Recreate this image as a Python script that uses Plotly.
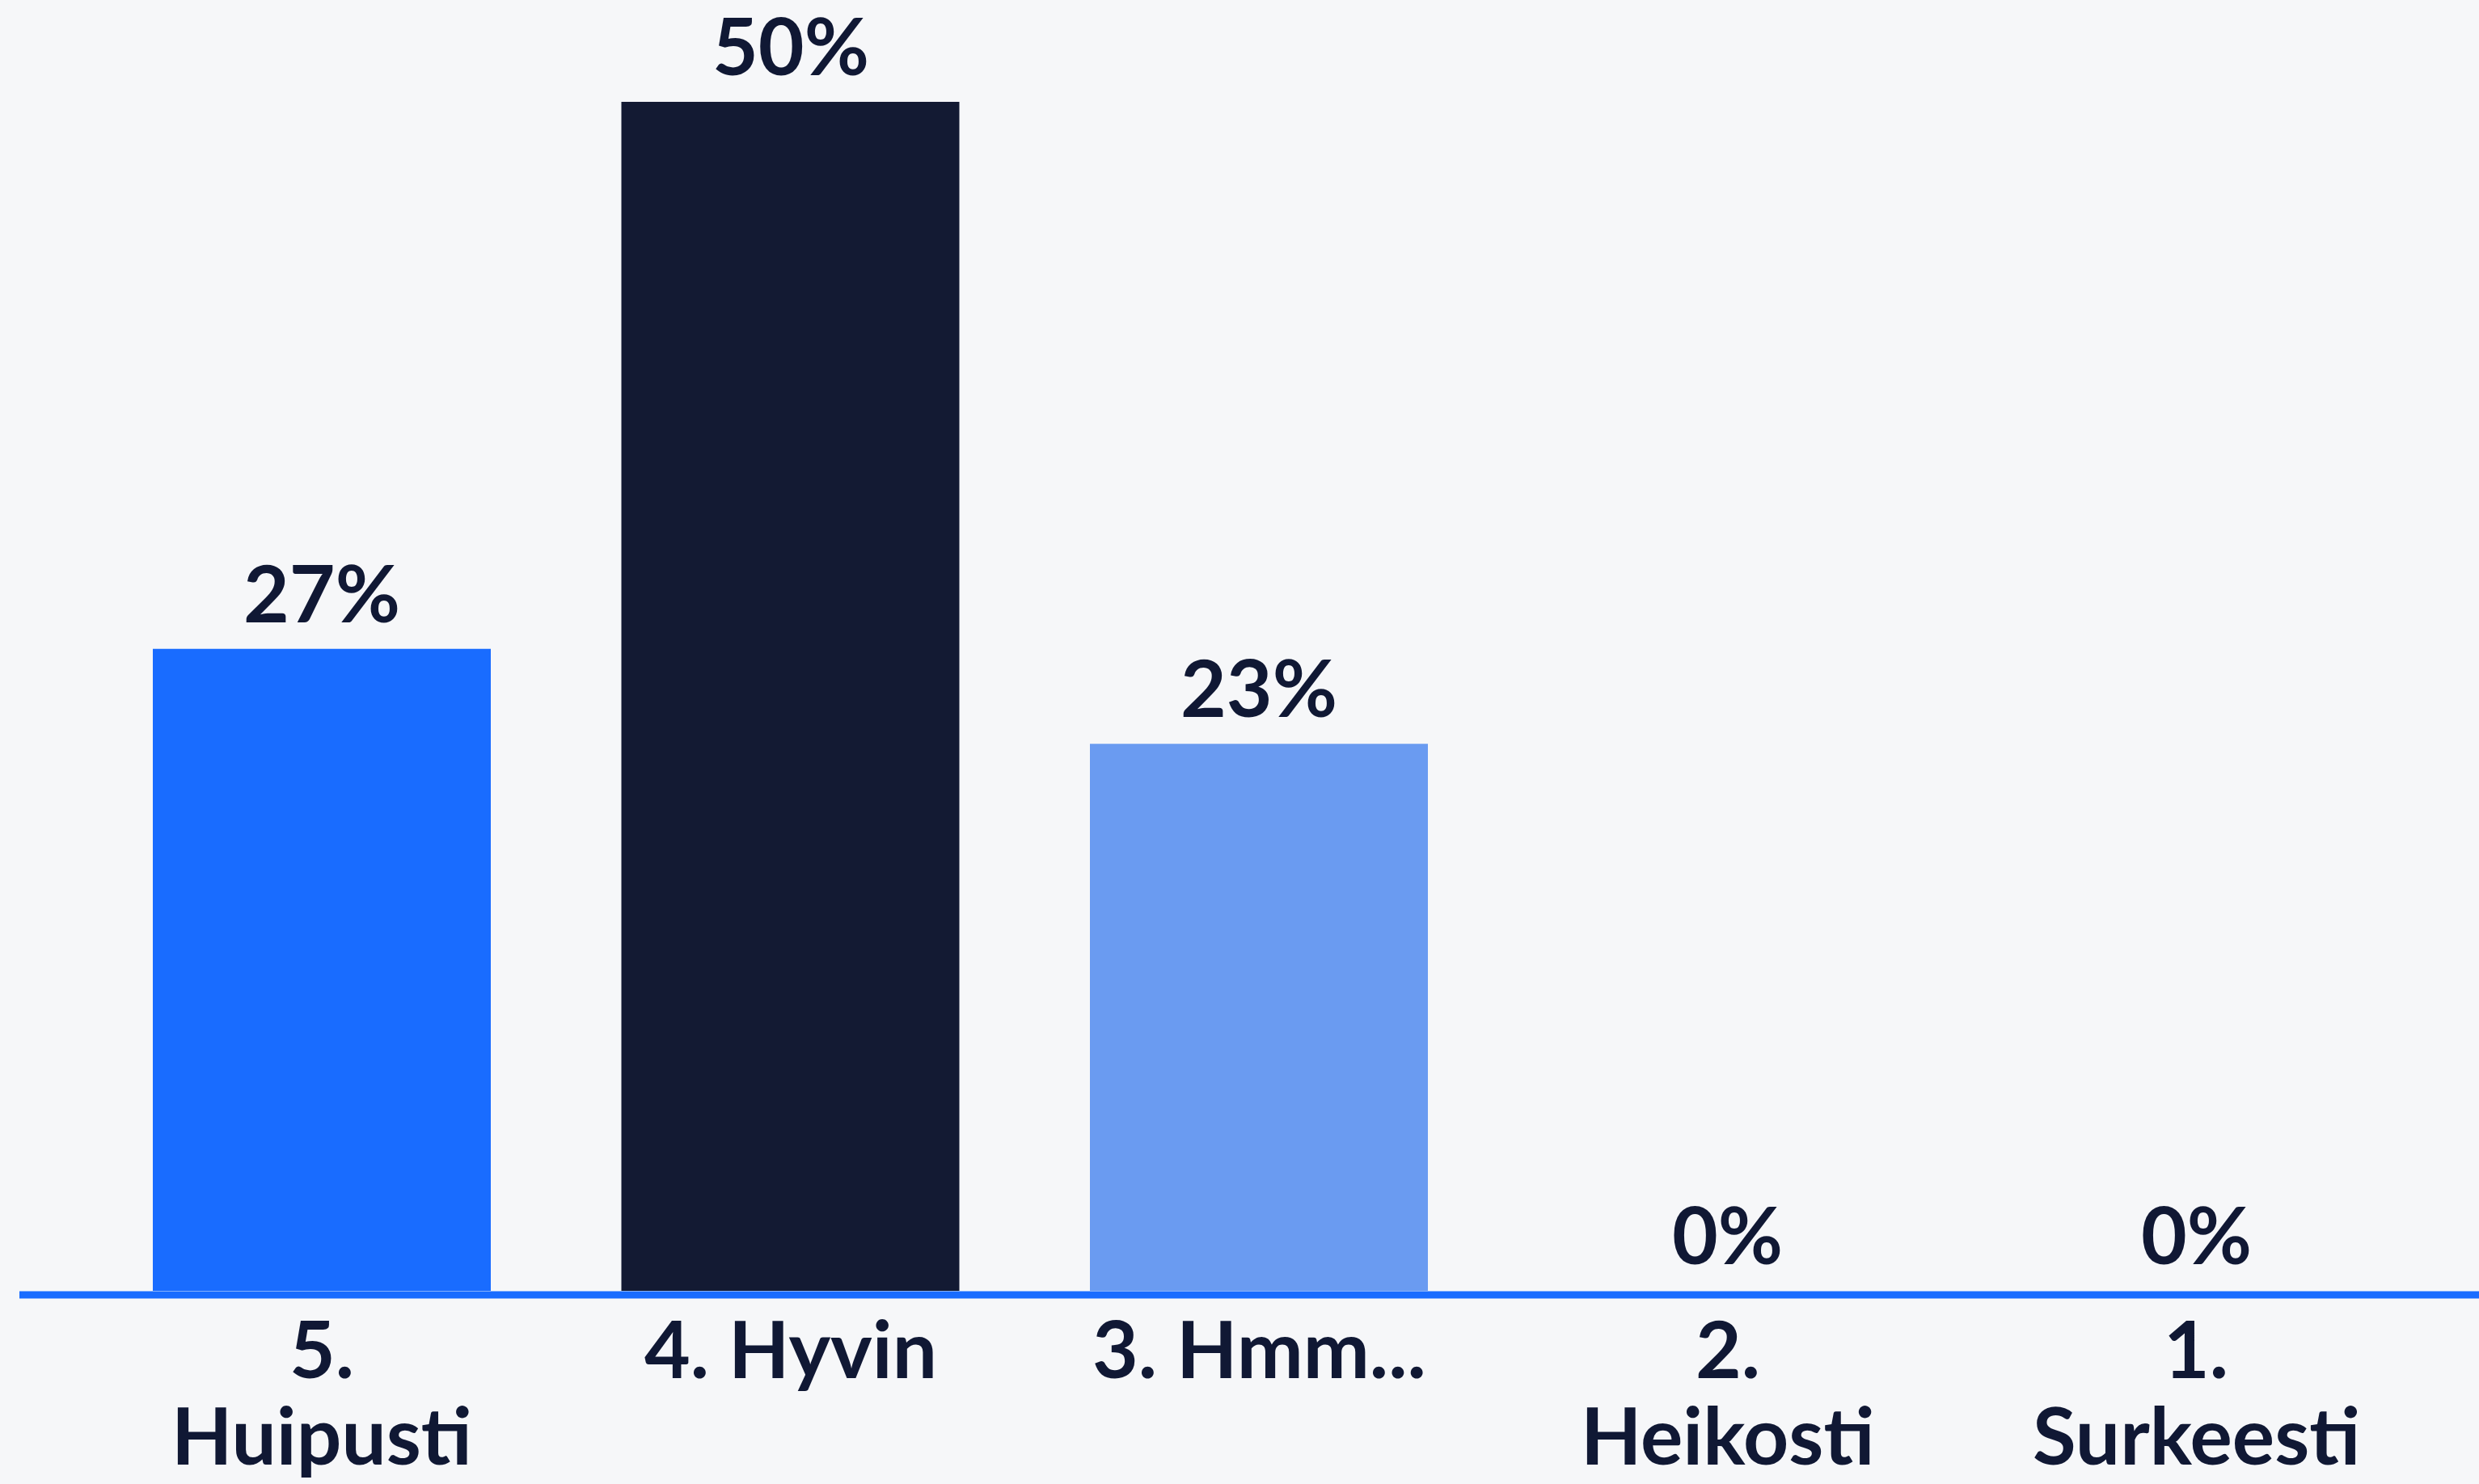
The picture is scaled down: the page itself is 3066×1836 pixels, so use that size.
import plotly.graph_objects as go

# ---- data ----
categories = ["5. Huipusti", "4. Hyvin", "3. Hmm...", "2. Heikosti", "1. Surkeesti"]
tick_labels = ["5.<br>Huipusti", "4. Hyvin", "3. Hmm...", "2.<br>Heikosti", "1.<br>Surkeesti"]
values = [27, 50, 23, 0, 0]
bar_colors = ["#196CFF", "#131A33", "#6A9BF1", "#A9C6F8", "#D4E2FB"]

# ---- style ----
W, H = 3066, 1836
BG = "#F6F7F9"
TXT = "#101834"
FONT = "Lato"
FS = 98
WEIGHT = 700
PX_PER_UNIT = 29.42
ZERO_PX = 1597
CAT_SPACING = 579.5
FIRST_CENTER = 398

y_max = ZERO_PX / PX_PER_UNIT
y_min = -(H - ZERO_PX) / PX_PER_UNIT
x_min = -FIRST_CENTER / CAT_SPACING
x_max = (W - FIRST_CENTER) / CAT_SPACING

fig = go.Figure()
fig.add_trace(go.Bar(
    x=categories, y=values,
    marker=dict(color=bar_colors, line=dict(width=0)),
    width=0.7213,
    hoverinfo="skip",
))

annotations = []
for cat, v in zip(categories, values):
    annotations.append(dict(
        x=cat, y=v, xref="x", yref="y", text=f"{v}%", showarrow=False,
        yanchor="bottom", xanchor="center", yshift=10,
        font=dict(family=FONT, size=FS, color=TXT, weight=WEIGHT),
    ))
for cat, lab in zip(categories, tick_labels):
    for j, line in enumerate(lab.split("<br>")):
        annotations.append(dict(
            x=cat, y=0, xref="x", yref="y", text=line, showarrow=False,
            yanchor="middle", xanchor="center", yshift=-70 - j * 107,
            font=dict(family=FONT, size=FS, color=TXT, weight=WEIGHT),
        ))

fig.update_layout(
    width=W, height=H,
    margin=dict(l=0, r=0, t=0, b=0, pad=0),
    paper_bgcolor=BG, plot_bgcolor=BG,
    showlegend=False,
    xaxis=dict(range=[x_min, x_max], showticklabels=False, showgrid=False,
               zeroline=False, showline=False, ticks=""),
    yaxis=dict(range=[y_min, y_max], showticklabels=False, showgrid=False,
               zeroline=False, showline=False, ticks=""),
    annotations=annotations,
    shapes=[dict(type="line", xref="paper", yref="y",
                 x0=24 / W, x1=1, y0=-0.17, y1=-0.17,
                 line=dict(color="#196CFF", width=9), layer="above")],
    font=dict(family=FONT, color=TXT),
)

fig.write_html("out.html")
